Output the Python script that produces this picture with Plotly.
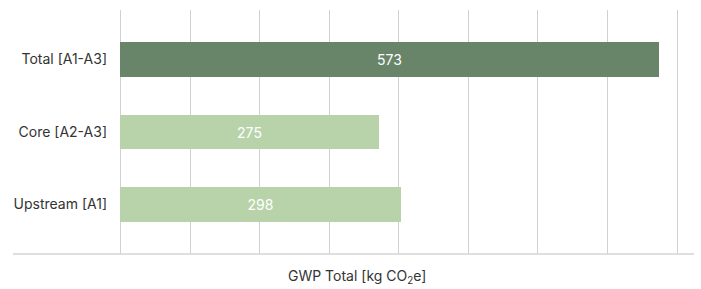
import plotly.graph_objects as go

categories = ["Upstream [A1]", "Core [A2-A3]", "Total [A1-A3]"]
values = [298, 275, 573]
bar_colors = ["#b8d3aa", "#b8d3aa", "#688569"]
x_title = "GWP Total [kg CO<sub>2</sub>e]"
grid_vals = [0, 74, 148, 222, 296, 370, 444, 518, 592]

fig = go.Figure()
fig.add_trace(go.Bar(
    y=categories, x=values, orientation="h",
    marker=dict(color=bar_colors, line=dict(width=0)),
    width=0.478,
    text=[str(v) for v in values],
    textposition="inside", insidetextanchor="middle",
    textfont=dict(color="white", size=14, family="Inter"),
    hoverinfo="skip",
))

plot_l, plot_r = 120, 685
plot_w = plot_r - plot_l

fig.update_layout(
    width=701, height=289,
    margin=dict(l=plot_l, r=701 - plot_r, t=10, b=35),
    paper_bgcolor="white", plot_bgcolor="white",
    font=dict(family="Inter", size=14, color="#333333"),
    showlegend=False,
    bargap=0,
    xaxis=dict(range=[-0.5, 600.5], tickmode="array", tickvals=grid_vals,
               showgrid=True, gridcolor="#d0d0d0", gridwidth=1,
               zeroline=True, zerolinecolor="#d0d0d0", zerolinewidth=1,
               showticklabels=False, ticks="", showline=False, fixedrange=True),
    yaxis=dict(range=[-0.683, 2.683], showgrid=False, zeroline=False,
               ticks="", ticklabelstandoff=12, showline=False,
               tickfont=dict(size=14, color="#333333"), fixedrange=True),
    shapes=[dict(type="line", xref="paper", yref="paper",
                 x0=(13 - plot_l) / plot_w, x1=(694 - plot_l) / plot_w,
                 y0=0, y1=0, line=dict(color="#d4d4d4", width=1.5))],
    annotations=[dict(text=x_title, xref="paper", yref="paper",
                      x=(357 - plot_l) / plot_w, y=(254 - 276) / 244,
                      xanchor="center", yanchor="middle", showarrow=False,
                      font=dict(size=14, color="#333333"))],
)

fig.write_html("out.html", config={"displayModeBar": False},
               post_script="document.body.style.margin='0';document.body.style.overflow='hidden';")
